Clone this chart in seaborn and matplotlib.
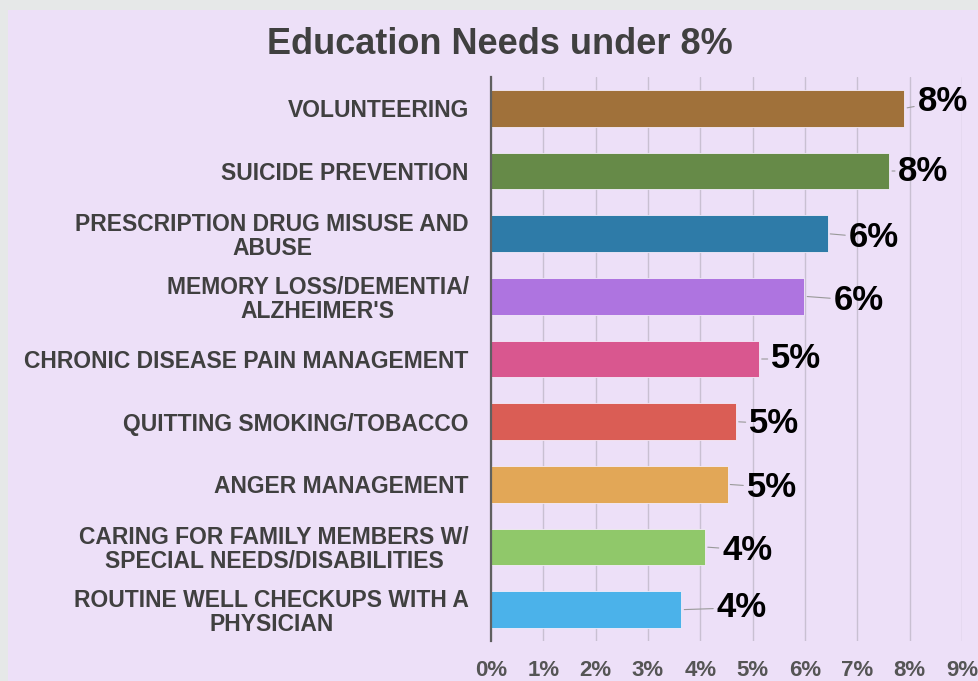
import matplotlib
matplotlib.use("Agg")
import matplotlib.pyplot as plt
from matplotlib.patches import Rectangle
import seaborn as sns
import pandas as pd

# data
categories = [
    "VOLUNTEERING",
    "SUICIDE PREVENTION",
    "PRESCRIPTION DRUG MISUSE AND\nABUSE",
    "MEMORY LOSS/DEMENTIA/\nALZHEIMER'S",
    "CHRONIC DISEASE PAIN MANAGEMENT",
    "QUITTING SMOKING/TOBACCO",
    "ANGER MANAGEMENT",
    "CARING FOR FAMILY MEMBERS W/\nSPECIAL NEEDS/DISABILITIES",
    "ROUTINE WELL CHECKUPS WITH A\nPHYSICIAN",
]
values = [7.90, 7.61, 6.43, 5.99, 5.12, 4.68, 4.52, 4.09, 3.64]
x_ticks = [0, 1, 2, 3, 4, 5, 6, 7, 8, 9]

colors = ["#A0713A", "#668A48", "#2E7BA8", "#AE74E0", "#D9578F",
          "#DA5D55", "#E2A757", "#90C86A", "#4BB2EA"]
# label offsets from bar end, in pixels (dx, dy)
label_offsets = [(13, 7), (9, 0), (21, -4), (29, -4), (12, 0),
                 (13, -2), (19, -3), (17, -3), (35, 2)]

BG = "#EDE0F8"
TXT = "#404040"

sns.set_style("white")
plt.rcParams["font.family"] = ["Liberation Sans", "DejaVu Sans"]

df = pd.DataFrame({"need": categories, "pct": values})

fig = plt.figure(figsize=(9.79, 6.81), dpi=100)
fig.patch.set_facecolor("#E6E8E8")
fig.patches.append(Rectangle((8 / 979, 0), 1, 1 - 10 / 681, transform=fig.transFigure,
                             facecolor=BG, edgecolor="none", zorder=-5))

ax = fig.add_axes([491 / 979, 1 - 641 / 681, (962 - 491) / 979, (641 - 77) / 681])
ax.set_facecolor(BG)

sns.barplot(data=df, y="need", x="pct", hue="need", palette=colors, legend=False,
            width=0.59, edgecolor="#F4ECFA", linewidth=0.6, saturation=1, ax=ax)

ax.set_xlim(0, 9)
ax.set_xticks(x_ticks)
ax.set_xticklabels([f"{t}%" for t in x_ticks], fontsize=16, fontweight="bold", color="#555555")
ax.set_yticks(range(len(categories)))
ax.set_yticklabels(categories, fontsize=16.5, fontweight="bold", color=TXT,
                   multialignment="center", linespacing=1.05)
ax.tick_params(axis="y", length=0, pad=16)
ax.tick_params(axis="x", length=0, pad=14)
ax.set_xlabel("")
ax.set_ylabel("")

ax.grid(axis="x", color="#C9C0D2", linewidth=1)
ax.set_axisbelow(True)
for s in ["top", "right", "bottom"]:
    ax.spines[s].set_visible(False)
ax.spines["left"].set_color("#606060")
ax.spines["left"].set_linewidth(1.6)

for i, v in enumerate(values):
    dx, dy = label_offsets[i]
    ax.annotate(f"{v:.0f}%", xy=(v, i), xytext=(dx, dy), textcoords="offset pixels",
                ha="left", va="center", fontsize=25, fontweight="bold", color="black",
                annotation_clip=False,
                arrowprops=dict(arrowstyle="-", color="#999999", lw=0.8,
                                shrinkA=0, shrinkB=2))

fig.text(0.511, 1 - 44 / 681, "Education Needs under 8%", ha="center", va="center",
         fontsize=26, fontweight="bold", color=TXT)

fig.savefig("out.png", dpi=100, facecolor=fig.get_facecolor())
